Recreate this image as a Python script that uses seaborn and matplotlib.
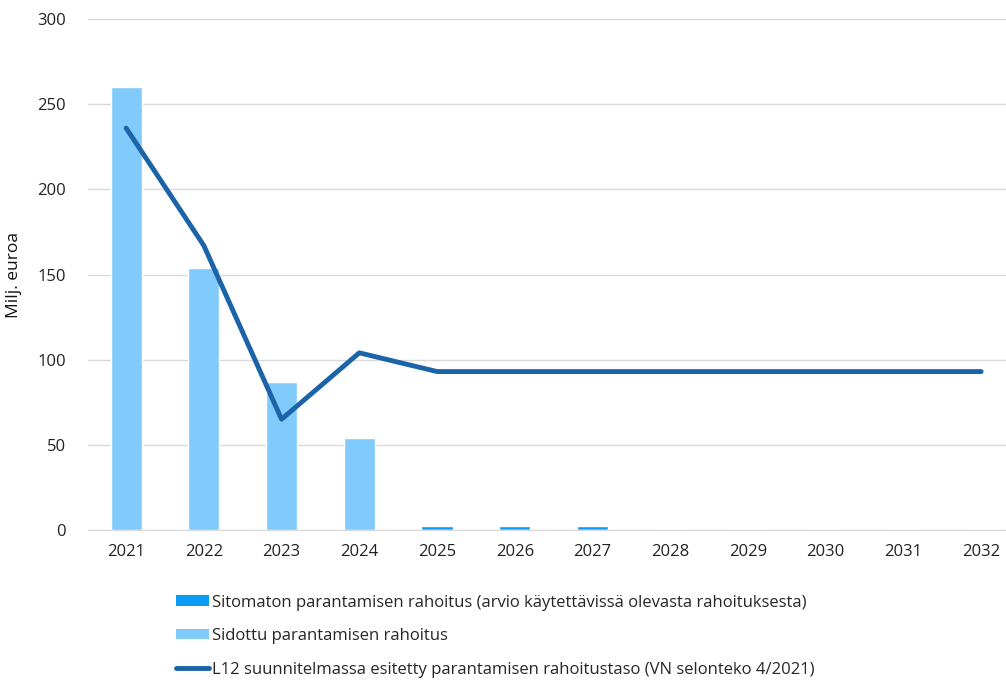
import numpy as np
import pandas as pd
import matplotlib
matplotlib.use('Agg')
import matplotlib.pyplot as plt
import seaborn as sns
from matplotlib.patches import Patch
from matplotlib.lines import Line2D

# Data
years = ['2021', '2022', '2023', '2024', '2025', '2026', '2027', '2028', '2029', '2030', '2031', '2032']
sitomaton = [0, 0, 0, 0, 2.5, 2.5, 2.5, 0, 0, 0, 0, 0]  # Sitomaton parantamisen rahoitus
sidottu = [260, 154, 87, 54, 0, 0, 0, 0, 0, 0, 0, 0]  # Sidottu parantamisen rahoitus
l12_taso = [236, 167, 65, 104, 93, 93, 93, 93, 93, 93, 93, 93]  # L12 rahoitustaso

labels = ['Sitomaton parantamisen rahoitus (arvio käytettävissä olevasta rahoituksesta)',
          'Sidottu parantamisen rahoitus',
          'L12 suunnitelmassa esitetty parantamisen rahoitustaso (VN selonteko 4/2021)']

c_sitomaton = '#0A9BF5'
c_sidottu = '#80CBFC'
c_line = '#1B64A8'

df = pd.DataFrame({'vuosi': years, 'sitomaton': sitomaton, 'sidottu': sidottu, 'taso': l12_taso})
df['yhteensa'] = df['sitomaton'] + df['sidottu']  # total height for stacking

sns.set_style('white')
plt.rcParams['font.family'] = ['Open Sans', 'DejaVu Sans']

fig = plt.figure(figsize=(10.06, 6.82), dpi=100)
ax = fig.add_axes([0.0875, 0.223, 0.9125, 0.749])

# Stacked bars: total first, then the lower part on top of it
sns.barplot(data=df, x='vuosi', y='yhteensa', color=c_sitomaton, width=0.4, saturation=1, ax=ax, zorder=2)
sns.barplot(data=df, x='vuosi', y='sidottu', color=c_sidottu, width=0.4, saturation=1, ax=ax, zorder=3)
sns.lineplot(x=np.arange(len(years)), y=df['taso'], color=c_line, linewidth=3.5, ax=ax, zorder=4)

ax.set_ylim(0, 300)
ax.set_xlim(-0.49, 11.32)
ax.set_yticks(range(0, 301, 50))
ax.yaxis.grid(True, color='#D9D9D9', linewidth=1)
ax.set_axisbelow(True)
for s in ['top', 'right', 'left']:
    ax.spines[s].set_visible(False)
ax.spines['bottom'].set_color('#D9D9D9')
ax.tick_params(axis='both', length=0, labelsize=12, colors='#222222')
ax.tick_params(axis='y', pad=16)
ax.tick_params(axis='x', pad=10)
ax.set_xlabel('')
ax.set_ylabel('Milj. euroa', fontsize=12.5, color='#111111')
ax.yaxis.set_label_coords(-0.072, 0.5)

handles = [Patch(facecolor=c_sitomaton, edgecolor='none'),
           Patch(facecolor=c_sidottu, edgecolor='none'),
           Line2D([0], [0], color=c_line, linewidth=3.5)]
fig.legend(handles, labels, loc='upper left', bbox_to_anchor=(0.168, 0.138), frameon=False,
           fontsize=12, handlelength=2.0, handleheight=0.6, handletextpad=0.2,
           labelspacing=1.05, borderaxespad=0)

fig.savefig('out.png', dpi=100)
